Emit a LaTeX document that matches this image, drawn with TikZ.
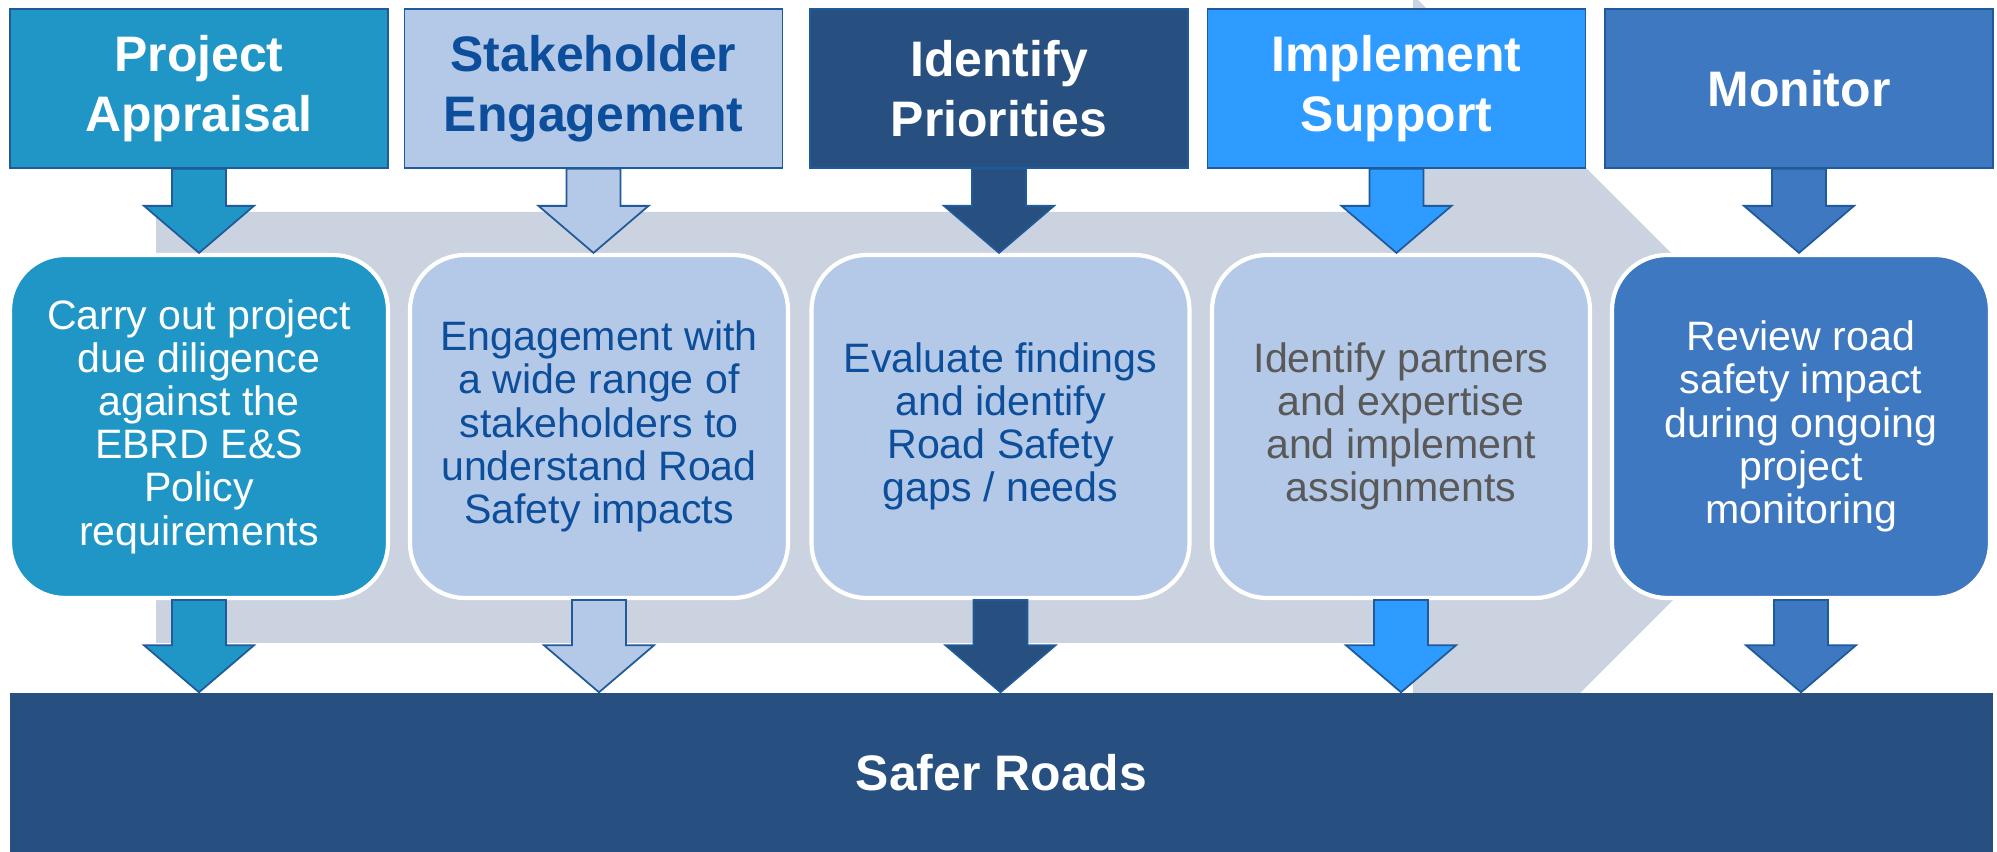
\documentclass[tikz,border=0pt]{standalone}
\usepackage{fontspec}
\setmainfont{Liberation Sans}
\usetikzlibrary{calc}

\definecolor{appraisal}{RGB}{31,150,198}
\definecolor{paleblue}{RGB}{180,201,231}
\definecolor{navy}{RGB}{39,80,128}
\definecolor{brightblue}{RGB}{45,155,255}
\definecolor{monitorblue}{RGB}{61,120,193}
\definecolor{bandgrey}{RGB}{203,210,224}
\definecolor{inkblue}{RGB}{12,78,155}
\definecolor{inkgrey}{RGB}{89,89,89}
\definecolor{edgeblue}{RGB}{31,90,155}

\tikzset{
	head/.style={draw=edgeblue, line width=0.5pt, minimum width=3.78cm, minimum height=1.59cm, inner sep=0pt, align=center, font=\fontsize{14.2}{17}\selectfont\bfseries},
	task/.style={draw=white, line width=1.2pt, rounded corners=0.55cm, minimum width=3.78cm, minimum height=3.43cm, inner sep=0pt, align=center, font=\fontsize{11.7}{12.3}\selectfont},
}

\newcommand{\blockarrow}[3]{%
	\filldraw[fill=#3, draw=edgeblue, line width=0.5pt] let \p1=(#1.south), \p2=(#2.north) in
	(\x1-0.27cm,\y1) -- (\x1+0.27cm,\y1) -- (\x1+0.27cm,\y2+0.47cm) -- (\x1+0.55cm,\y2+0.47cm)
	-- (\x1,\y2) -- (\x1-0.55cm,\y2+0.47cm) -- (\x1-0.27cm,\y2+0.47cm) -- cycle;}

\begin{document}
\begin{tikzpicture}
	\useasboundingbox (0,0) rectangle (19.97,8.52);
	\fill[bandgrey] (1.56,6.40) -- (14.13,6.40) -- (14.13,8.57) -- (18.455,4.245)
		-- (14.13,-0.08) -- (14.13,2.09) -- (1.56,2.09) -- cycle;

	\node[head, fill=appraisal, text=white] (h1) at (1.99,7.635) {Project\\Appraisal};
	\node[head, fill=paleblue, text=inkblue] (h2) at (5.935,7.635) {Stakeholder\\Engagement};
	\node[head, fill=navy, text=white] (h3) at (9.99,7.635) {Identify\\Priorities};
	\node[head, fill=brightblue, text=white] (h4) at (13.965,7.635) {Implement\\Support};
	\node[head, fill=monitorblue, text=white, minimum width=3.88cm] (h5) at (17.99,7.635) {Monitor};

	\node[task, fill=appraisal, text=white] (t1) at (1.99,4.255) {Carry out project\\due diligence\\against the\\EBRD E\&S\\Policy\\requirements};
	\node[task, fill=paleblue, text=inkblue] (t2) at (5.99,4.255) {Engagement with\\a wide range of\\stakeholders to\\understand Road\\Safety impacts};
	\node[task, fill=paleblue, text=inkblue] (t3) at (10.005,4.255) {Evaluate findings\\and identify\\Road Safety\\gaps / needs};
	\node[task, fill=paleblue, text=inkgrey] (t4) at (14.01,4.255) {Identify partners\\and expertise\\and implement\\assignments};
	\node[task, fill=monitorblue, text=white] (t5) at (18.01,4.255) {Review road\\safety impact\\during ongoing\\project\\monitoring};

	\node[fill=navy, text=white, minimum width=19.83cm, minimum height=1.59cm, inner sep=0pt, font=\fontsize{14.2}{17}\selectfont\bfseries] (safer) at (10.015,0.795) {Safer Roads};

	\blockarrow{h1}{t1}{appraisal}
	\blockarrow{h2}{t2}{paleblue}
	\blockarrow{h3}{t3}{navy}
	\blockarrow{h4}{t4}{brightblue}
	\blockarrow{h5}{t5}{monitorblue}

	\blockarrow{t1}{safer}{appraisal}
	\blockarrow{t2}{safer}{paleblue}
	\blockarrow{t3}{safer}{navy}
	\blockarrow{t4}{safer}{brightblue}
	\blockarrow{t5}{safer}{monitorblue}
\end{tikzpicture}
\end{document}
